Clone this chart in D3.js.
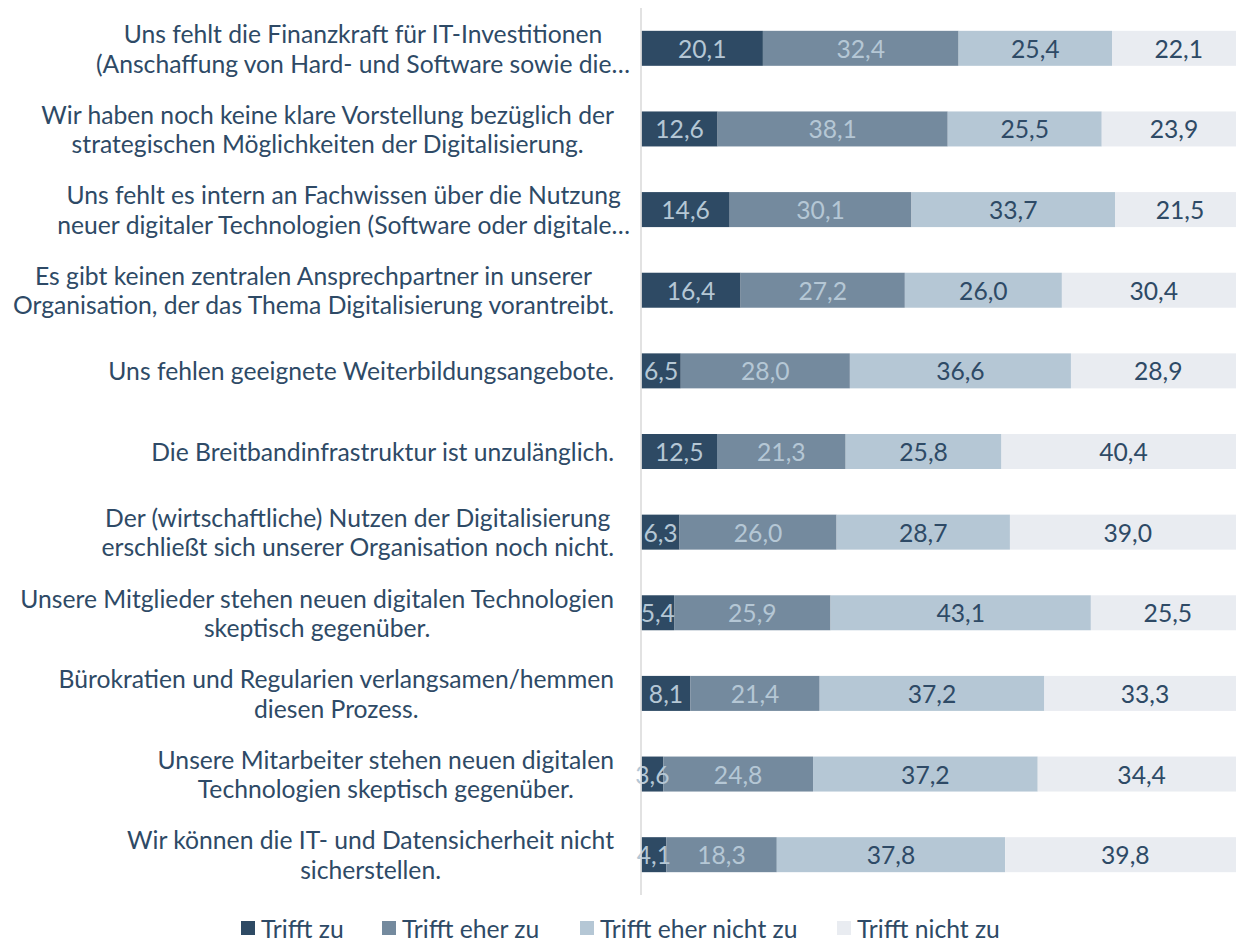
<!DOCTYPE html>
<html><head><meta charset="utf-8">
<script src="https://cdn.jsdelivr.net/npm/d3@7"></script>
<style>body{margin:0;background:#fff}svg{display:block}</style>
</head><body>
<svg id="c" width="1236" height="946"></svg>
<script>
const categories = [
  "Uns fehlt die Finanzkraft für IT-Investitionen\n(Anschaffung von Hard- und Software sowie die…",
  "Wir haben noch keine klare Vorstellung bezüglich der\nstrategischen Möglichkeiten der Digitalisierung.",
  "Uns fehlt es intern an Fachwissen über die Nutzung\nneuer digitaler Technologien (Software oder digitale…",
  "Es gibt keinen zentralen Ansprechpartner in unserer\nOrganisation, der das Thema Digitalisierung vorantreibt.",
  "Uns fehlen geeignete Weiterbildungsangebote.",
  "Die Breitbandinfrastruktur ist unzulänglich.",
  "Der (wirtschaftliche) Nutzen der Digitalisierung\nerschließt sich unserer Organisation noch nicht.",
  "Unsere Mitglieder stehen neuen digitalen Technologien\nskeptisch gegenüber.",
  "Bürokratien und Regularien verlangsamen/hemmen\ndiesen Prozess.",
  "Unsere Mitarbeiter stehen neuen digitalen\nTechnologien skeptisch gegenüber.",
  "Wir können die IT- und Datensicherheit nicht\nsicherstellen."
];
const seriesNames = ["Trifft zu", "Trifft eher zu", "Trifft eher nicht zu", "Trifft nicht zu"];
const triffZu        = [20.1, 12.6, 14.6, 16.4, 6.5, 12.5, 6.3, 5.4, 8.1, 3.6, 4.1];
const trifftEherZu   = [32.4, 38.1, 30.1, 27.2, 28.0, 21.3, 26.0, 25.9, 21.4, 24.8, 18.3];
const trifftEherNicht= [25.4, 25.5, 33.7, 26.0, 36.6, 25.8, 28.7, 43.1, 37.2, 37.2, 37.8];
const trifftNicht    = [22.1, 23.9, 21.5, 30.4, 28.9, 40.4, 39.0, 25.5, 33.3, 34.4, 39.8];
const seriesValues = [triffZu, trifftEherZu, trifftEherNicht, trifftNicht];

const colors = ["#2e4a64", "#748a9e", "#b5c7d5", "#e9ecf1"];
const labelColors = ["#b5c7d5", "#b5c7d5", "#2e4a66", "#2e4a66"];
const textColor = "#2e4a66";
const FONT = "Lato, 'Open Sans', sans-serif";

const svg = d3.select("#c");

// fit font size to reference text width
const probe = svg.append("text").attr("font-family", FONT).attr("font-size", 20)
  .text("Wir haben noch keine klare Vorstellung bezüglich der");
const fs = 20 * 573 / probe.node().getComputedTextLength();
probe.remove();

const x = d3.scaleLinear().domain([0, 100]).range([641.5, 641.5 + 604]);
const y = d3.scaleBand().domain(d3.range(categories.length)).range([8, 895]).paddingInner(0.566).paddingOuter(0.283);

const stackData = categories.map((c, i) => {
  let acc = 0;
  return seriesValues.map((s, k) => { const v = s[i]; const r = {i, k, x0: acc, x1: acc + v, v}; acc += v; return r; });
});

const g = svg.append("g");
stackData.forEach(row => {
  row.forEach(d => {
    g.append("rect")
      .attr("x", x(d.x0)).attr("width", x(d.x1) - x(d.x0))
      .attr("y", y(d.i)).attr("height", y.bandwidth())
      .attr("fill", colors[d.k]);
  });
});
stackData.forEach(row => {
  row.forEach(d => {
    g.append("text")
      .attr("x", (x(d.x0) + x(d.x1)) / 2)
      .attr("y", y(d.i) + y.bandwidth() / 2)
      .attr("text-anchor", "middle").attr("dominant-baseline", "central")
      .attr("font-family", FONT).attr("font-size", fs)
      .attr("fill", labelColors[d.k])
      .text(d.v.toFixed(1).replace(".", ","));
  });
});

// axis line
svg.append("line").attr("x1", 641).attr("x2", 641).attr("y1", 8).attr("y2", 895)
  .attr("stroke", "#d9d9d9").attr("stroke-width", 1.5);

// category labels
const lineH = 29.5;
categories.forEach((c, i) => {
  const lines = c.split("\n");
  const grp = svg.append("g");
  const texts = lines.map(l => grp.append("text").attr("font-family", FONT).attr("font-size", fs)
    .attr("fill", textColor).attr("text-anchor", "middle").attr("dominant-baseline", "central").text(l));
  const w = d3.max(texts, t => t.node().getComputedTextLength());
  const hasEll = c.includes("…");
  const right = hasEll ? 630 : 614;
  const cx = right - w / 2;
  const cy = y(i) + y.bandwidth() / 2;
  texts.forEach((t, j) => t.attr("x", cx).attr("y", cy + (j - (lines.length - 1) / 2) * lineH));
});

// legend
const legX = [241, 382, 580, 837];
const legY = 928;
seriesNames.forEach((n, k) => {
  svg.append("rect").attr("x", legX[k]).attr("y", legY - 7).attr("width", 14).attr("height", 14).attr("fill", colors[k]);
  svg.append("text").attr("x", legX[k] + 20).attr("y", legY).attr("dominant-baseline", "central")
    .attr("font-family", FONT).attr("font-size", fs).attr("fill", textColor).text(n);
});
</script>
</body></html>
